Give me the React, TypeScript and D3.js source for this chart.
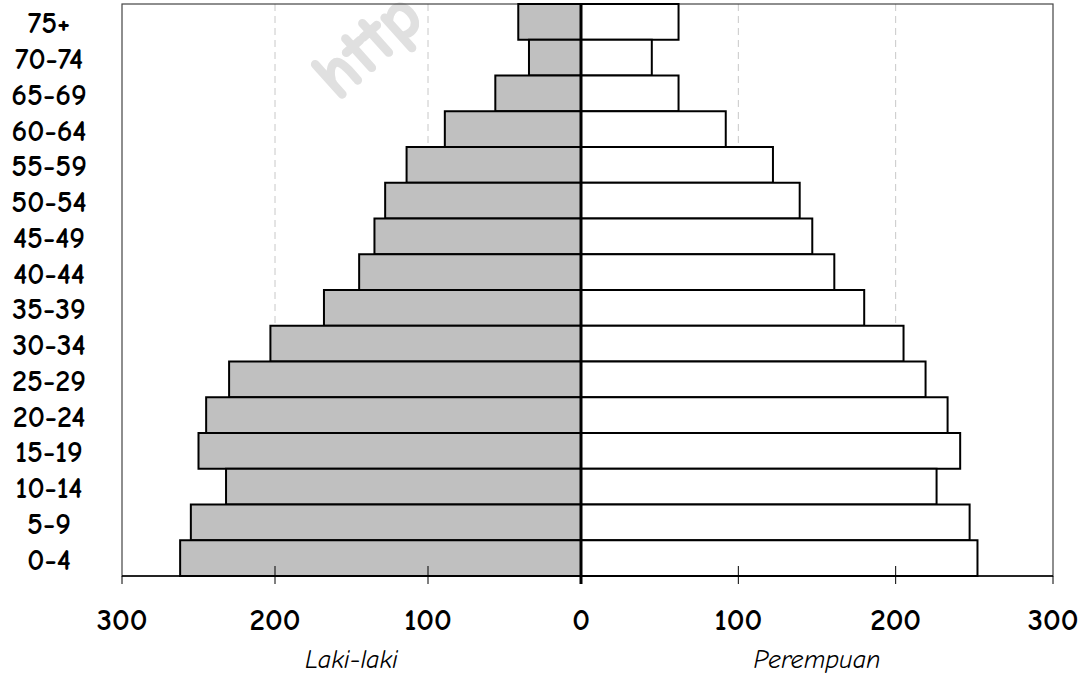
import React from "react";
import * as d3 from "d3";

const ageGroups = ["75+", "70-74", "65-69", "60-64", "55-59", "50-54", "45-49", "40-44", "35-39", "30-34", "25-29", "20-24", "15-19", "10-14", "5-9", "0-4"];
const maleValues = [41, 34, 56, 89, 114, 128, 135, 145, 168, 203, 230, 245, 250, 232, 255, 262];
const femaleValues = [62, 45, 62, 92, 122, 139, 147, 161, 180, 205, 219, 233, 241, 226, 247, 252];
const tickValues = [0, 100, 200, 300];
const gridValues = [100, 200];
const leftTitle = "Laki-laki";
const rightTitle = "Perempuan";
const watermark = "http";

const W = 1084;
const H = 679;
const plotTop = 4;
const plotBottom = 576;
const plotLeft = 122;
const plotRight = 1053;
const center = 581;

const FONT = "'Comic Sans MS', 'Comic Neue', 'DejaVu Sans', sans-serif";

export default function App() {
  const xLeft = d3.scaleLinear().domain([0, 300]).range([center, plotLeft]);
  const xRight = d3.scaleLinear().domain([0, 300]).range([center, plotRight]);
  const y = d3.scaleBand<string>().domain(ageGroups).range([plotTop, plotBottom]).padding(0);

  return (
    <svg width={W} height={H} style={{ position: "absolute", left: 0, top: 0, background: "#fff" }}>
      <rect x={0} y={0} width={W} height={H} fill="#fff" />
      {/* gridlines */}
      {gridValues.map((v) => (
        <g key={"g" + v}>
          <line x1={xLeft(v)} x2={xLeft(v)} y1={plotTop} y2={plotBottom} stroke="#c8c8c8" strokeWidth={1} strokeDasharray="7,5" />
          <line x1={xRight(v)} x2={xRight(v)} y1={plotTop} y2={plotBottom} stroke="#c8c8c8" strokeWidth={1} strokeDasharray="7,5" />
        </g>
      ))}
      {/* watermark */}
      <text
        x={0}
        y={0}
        transform="translate(338,102) rotate(-42)"
        fontFamily={FONT}
        fontWeight="bold"
        fontSize={70}
        fill="#e0e0e0"
        stroke="#e0e0e0"
        strokeWidth={2}
      >
        {watermark}
      </text>
      {/* frame */}
      <rect x={plotLeft} y={plotTop} width={plotRight - plotLeft} height={plotBottom - plotTop} fill="none" stroke="#444" strokeWidth={1.2} />
      {/* bars */}
      {ageGroups.map((g, i) => (
        <g key={g}>
          <rect
            x={xLeft(maleValues[i])}
            y={y(g)!}
            width={center - xLeft(maleValues[i])}
            height={y.bandwidth()}
            fill="#c0c0c0"
            stroke="#000"
            strokeWidth={2}
          />
          <rect
            x={center}
            y={y(g)!}
            width={xRight(femaleValues[i]) - center}
            height={y.bandwidth()}
            fill="#fff"
            stroke="#000"
            strokeWidth={2}
          />
        </g>
      ))}
      {/* bottom axis line */}
      <line x1={plotLeft} x2={plotRight} y1={plotBottom} y2={plotBottom} stroke="#000" strokeWidth={1.5} />
      {/* ticks */}
      {tickValues.filter((v) => v > 0).map((v) => {
        const inner = v < 300;
        return (
          <g key={"t" + v}>
            <line x1={xLeft(v)} x2={xLeft(v)} y1={inner ? plotBottom - 10 : plotBottom} y2={plotBottom + 8} stroke="#000" strokeWidth={1} />
            <line x1={xRight(v)} x2={xRight(v)} y1={inner ? plotBottom - 10 : plotBottom} y2={plotBottom + 8} stroke="#000" strokeWidth={1} />
          </g>
        );
      })}
      {/* center line */}
      <line x1={center} x2={center} y1={plotTop} y2={plotBottom + 8} stroke="#000" strokeWidth={3} />
      {/* tick labels */}
      {tickValues.map((v) => (
        <g key={"l" + v}>
          <text x={xLeft(v)} y={630} textAnchor="middle" fontFamily={FONT} fontWeight="bold" fontSize={31} fill="#000">
            {v}
          </text>
          {v > 0 && (
            <text x={xRight(v)} y={630} textAnchor="middle" fontFamily={FONT} fontWeight="bold" fontSize={31} fill="#000">
              {v}
            </text>
          )}
        </g>
      ))}
      {/* category labels */}
      {ageGroups.map((g) => (
        <text
          key={"c" + g}
          x={49}
          y={y(g)! + y.bandwidth() / 2}
          dy="0.38em"
          textAnchor="middle"
          fontFamily={FONT}
          fontWeight="bold"
          fontSize={30}
          fill="#000"
        >
          {g}
        </text>
      ))}
      {/* axis titles */}
      <text x={(xLeft(0) + xLeft(300)) / 2} y={668} textAnchor="middle" fontFamily={FONT} fontStyle="italic" fontSize={26} fill="#000">
        {leftTitle}
      </text>
      <text x={(xRight(0) + xRight(300)) / 2} y={668} textAnchor="middle" fontFamily={FONT} fontStyle="italic" fontSize={26} fill="#000">
        {rightTitle}
      </text>
    </svg>
  );
}
